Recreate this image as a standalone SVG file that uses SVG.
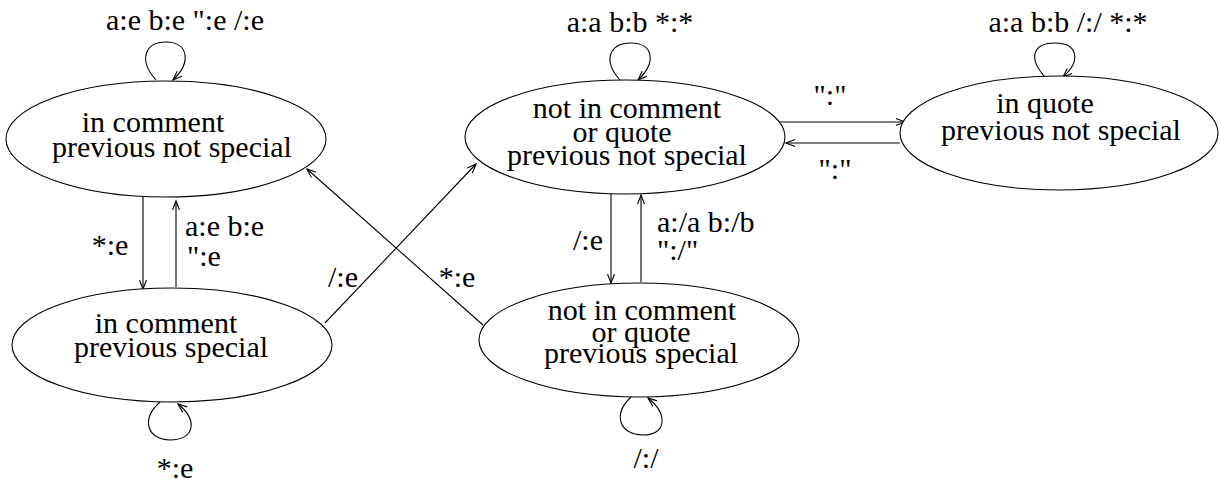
<svg xmlns="http://www.w3.org/2000/svg" width="1220" height="483" viewBox="0 0 1220 483">
<style>
.st ellipse{fill:#fff;stroke:#000;stroke-width:1.1}
text{font-family:"Liberation Serif","Times New Roman",serif;font-size:30px;fill:#000}
.m{text-anchor:middle}
.c path,.c line{fill:none;stroke:#000;stroke-width:1.1}
</style>
<defs>
<marker id="ah" markerUnits="userSpaceOnUse" markerWidth="12" markerHeight="10" refX="10" refY="4" orient="auto">
<path d="M1,0.5 L10,4 L1,7.5" fill="none" stroke="#000" stroke-width="1.1"/>
</marker>
</defs>
<rect width="1220" height="483" fill="#fff"/>
<g class="c" id="connectors">
<path d="M156,80 C138,60 145,42 166,42 C188,42 192,62 173,80" marker-end="url(#ah)"/>
<path d="M620,80 C602,60 610,43 631,43 C653,43 657,62 638,80" marker-end="url(#ah)"/>
<path d="M1045,77 C1027,57 1034,43 1055,43 C1077,43 1082,60 1063,77" marker-end="url(#ah)"/>
<path d="M160,402 C140,420 148,440 170,440 C195,440 198,420 178,404" marker-end="url(#ah)"/>
<path d="M631,397 C612,415 620,435 643,435 C667,435 668,414 648,398" marker-end="url(#ah)"/>
<line x1="143" y1="197" x2="143" y2="289" marker-end="url(#ah)"/>
<line x1="176" y1="287" x2="176" y2="201" marker-end="url(#ah)"/>
<line x1="611" y1="194" x2="611" y2="283" marker-end="url(#ah)"/>
<line x1="641" y1="282" x2="641" y2="195" marker-end="url(#ah)"/>
<line x1="778" y1="122" x2="905" y2="122" marker-end="url(#ah)"/>
<line x1="900" y1="143" x2="786" y2="143" marker-end="url(#ah)"/>
<line x1="325" y1="323" x2="476" y2="164" marker-end="url(#ah)"/>
<line x1="483" y1="325" x2="307" y2="169" marker-end="url(#ah)"/>
<text class="m" x="185" y="30">a:e b:e ":e /:e</text>
<text class="m" x="630" y="32">a:a b:b *:*</text>
<text class="m" x="1068" y="32">a:a b:b /:/ *:*</text>
<text class="m" x="175" y="478">*:e</text>
<text class="m" x="646" y="468">/:/</text>
<text class="m" x="110" y="255">*:e</text>
<text x="185" y="236">a:e b:e</text>
<text x="187" y="266">":e</text>
<text class="m" x="588" y="250">/:e</text>
<text x="657" y="232">a:/a b:/b</text>
<text x="657" y="260">":/"</text>
<text class="m" x="830" y="105">":"</text>
<text class="m" x="835" y="179">":"</text>
<text class="m" x="343" y="287">/:e</text>
<text class="m" x="457" y="287">*:e</text>
</g>
<g class="st" id="s1">
<ellipse cx="166" cy="139" rx="160" ry="58"/>
<text class="m" x="153" y="132">in comment</text>
<text class="m" x="172" y="157">previous not special</text>
</g>
<g class="st" id="s2">
<ellipse cx="172" cy="345" rx="160" ry="57"/>
<text class="m" x="166" y="333">in comment</text>
<text class="m" x="171" y="357">previous special</text>
</g>
<g class="st" id="s3">
<ellipse cx="625" cy="137" rx="160" ry="57"/>
<text class="m" x="627" y="118">not in comment</text>
<text class="m" x="622" y="142">or quote</text>
<text class="m" x="627" y="165">previous not special</text>
</g>
<g class="st" id="s4">
<ellipse cx="639" cy="340" rx="160" ry="57"/>
<text class="m" x="642" y="320">not in comment</text>
<text class="m" x="641" y="342">or quote</text>
<text class="m" x="641" y="363">previous special</text>
</g>
<g class="st" id="s5">
<ellipse cx="1059" cy="133" rx="159" ry="57"/>
<text class="m" x="1045" y="113">in quote</text>
<text class="m" x="1061" y="140">previous not special</text>
</g>
</svg>
